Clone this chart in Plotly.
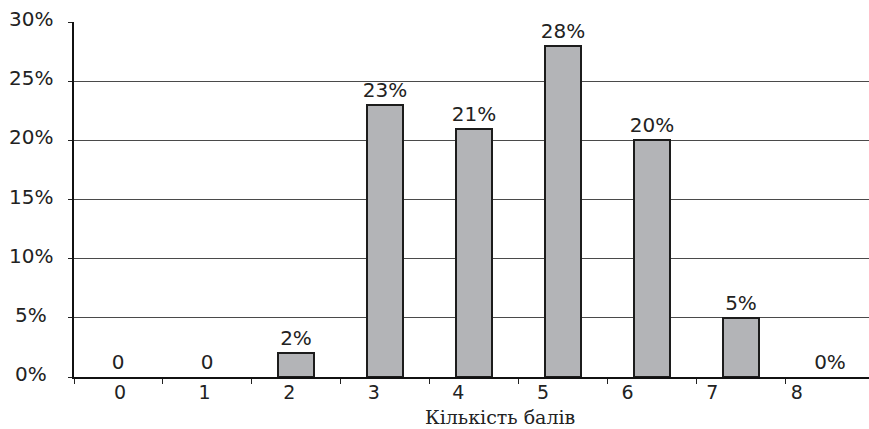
import plotly.graph_objects as go

# Score distribution: share of participants by number of points
scores = [0, 1, 2, 3, 4, 5, 6, 7, 8]
shares = [0, 0, 2, 23, 21, 28, 20, 5, 0]
share_labels = ["0", "0", "2%", "23%", "21%", "28%", "20%", "5%", "0%"]
score_labels = ["0", "1", "2", "3", "4", "5", "6", "7", "8"]
y_ticks = [0, 5, 10, 15, 20, 25, 30]
y_tick_labels = ["0%", "5%", "10%", "15%", "20%", "25%", "30%"]
x_title = "Кількість балів"

W, H = 869, 429
ML, MR, MT, MB = 74, 0, 22, 52
plot_w = W - ML - MR

sans = "DejaVu Sans"
ink = "#222222"
fs = 20

fig = go.Figure()

fig.add_trace(go.Bar(
    x=scores,
    y=shares,
    width=0.405,
    marker=dict(
        color="#b3b4b7",
        line=dict(color="#1c1c1c", width=[2 if v > 0 else 0 for v in shares]),
    ),
    text=share_labels,
    textposition="outside",
    constraintext="none",
    textfont=dict(family=sans, size=fs, color=ink),
    cliponaxis=False,
    hoverinfo="skip",
))

# Invisible companion trace carrying the score labels on a second x scale
fig.add_trace(go.Scatter(
    x=scores,
    y=[0] * len(scores),
    xaxis="x2",
    mode="markers",
    marker=dict(opacity=0),
    hoverinfo="skip",
    showlegend=False,
))

# Category boundaries used for the tick marks
bounds = [s - 0.5 for s in scores] + [scores[-1] + 0.5]
cat_px = 88.9
x_lo = -0.5
x_hi = x_lo + plot_w / cat_px

lab_px = 84.6
lab_first = 120
x2_lo = (ML - lab_first) / lab_px
x2_hi = (W - MR - lab_first) / lab_px

annotations = []
for v, t in zip(y_ticks, y_tick_labels):
    annotations.append(dict(
        x=(31 - ML) / plot_w, xref="paper", y=v, yref="y",
        text=t, showarrow=False, xanchor="center", yanchor="middle",
        yshift=3, font=dict(family=sans, size=fs, color=ink),
    ))
annotations.append(dict(
    x=(500 - ML) / plot_w, xref="paper", y=0, yref="paper",
    yanchor="middle", yshift=-40,
    text=x_title, showarrow=False, xanchor="center",
    font=dict(family="DejaVu Serif", size=19, color=ink),
))

fig.update_layout(
    width=W, height=H,
    margin=dict(l=ML, r=MR, t=MT, b=MB, pad=0),
    paper_bgcolor="white",
    plot_bgcolor="white",
    showlegend=False,
    bargap=0,
    annotations=annotations,
    xaxis=dict(
        range=[x_lo, x_hi],
        tickmode="array", tickvals=bounds, ticktext=[""] * len(bounds),
        ticks="outside", ticklen=5, tickwidth=1, tickcolor="#222",
        showticklabels=False,
        showgrid=False, zeroline=False,
        showline=True, linecolor="#111", linewidth=1.5,
        fixedrange=True,
    ),
    xaxis2=dict(
        overlaying="x", anchor="y", side="bottom",
        range=[x2_lo, x2_hi],
        tickmode="array", tickvals=scores, ticktext=score_labels,
        ticks="", showline=False, showgrid=False, zeroline=False,
        tickfont=dict(family=sans, size=19, color=ink),
        ticklabelstandoff=2,
    ),
    yaxis=dict(
        range=[0, 30],
        tickmode="array", tickvals=y_ticks, ticktext=[""] * len(y_ticks),
        showticklabels=False,
        ticks="outside", ticklen=4, tickcolor="#222",
        showgrid=True, gridcolor="#4a4a4a", gridwidth=1,
        zeroline=False,
        showline=True, linecolor="#111", linewidth=1.5,
    ),
)

fig.write_html("out.html")
